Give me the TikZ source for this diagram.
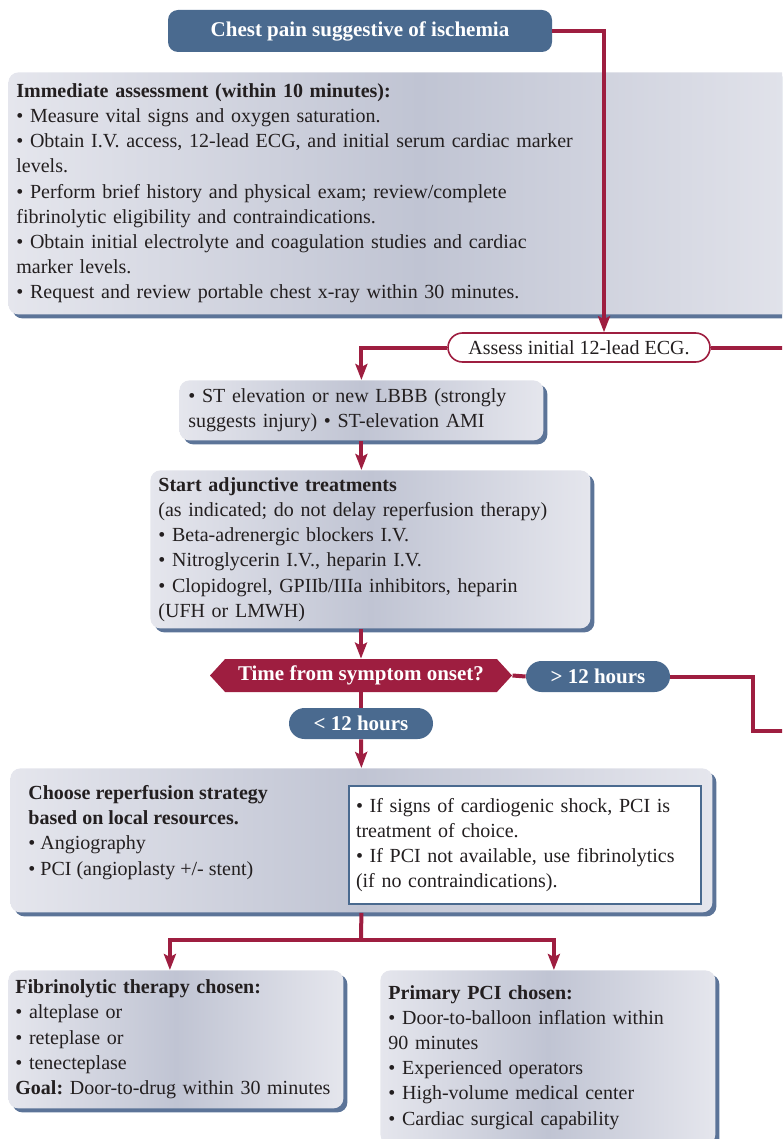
\documentclass[tikz,border=0pt]{standalone}
\usepackage{fontspec}
\setmainfont{Liberation Serif}
\usetikzlibrary{positioning,arrows.meta,shapes.symbols,shapes.misc,shadows}
\definecolor{ecgred}{RGB}{158,30,64}
\definecolor{navy}{RGB}{74,106,143}
\definecolor{boxlight}{RGB}{229,230,237}
\definecolor{boxmid}{RGB}{192,196,211}
\definecolor{shadowblue}{RGB}{92,116,152}
\definecolor{ink}{RGB}{35,31,32}
\newcommand{\bodyfont}{\fontsize{10}{12.6}\selectfont\frenchspacing}
\newcommand{\tagfont}{\fontsize{10.5}{12.6}\selectfont\bfseries}
\tikzset{
  >={Stealth[length=8pt,width=6pt,inset=1.5pt]},
  flow/.style={->,draw=ecgred,line width=2pt},
  link/.style={draw=ecgred,line width=2pt},
  infobox/.style={rounded corners=5pt,left color=boxlight,right color=boxlight,
    middle color=boxmid,
    drop shadow={shadow xshift=2pt,shadow yshift=-2pt,fill=shadowblue,opacity=1},
    text=ink,font=\bodyfont,align=left,anchor=north west,inner xsep=4pt,
    inner ysep=0pt},
  notebox/.style={draw=navy,line width=1pt,fill=white,text=ink,font=\bodyfont,
    align=left,anchor=north west,inner xsep=3.5pt,inner ysep=0pt},
  banner/.style={rounded corners=5pt,fill=navy,text=white,font=\tagfont,
    inner sep=0pt},
  navpill/.style={rounded rectangle,fill=navy,text=white,font=\tagfont,
    inner sep=0pt,minimum width=72pt,minimum height=15.5pt},
  ecgpill/.style={rounded rectangle,draw=ecgred,line width=0.8pt,fill=white,
    text=ink,font=\bodyfont,inner sep=0pt},
  decide/.style={signal,signal to=west and east,signal pointer angle=95,
    fill=ecgred,text=white,font=\tagfont,inner sep=0pt},
}

\begin{document}
\begin{tikzpicture}[x=0.5pt,y=-0.5pt]
  \clip (0,0) rectangle (782,1139);
  \node[banner,minimum width=192pt,minimum height=21pt] (chest) at (360,31)
    {Chest pain suggestive of ischemia};
  \node[infobox,text width=403pt,minimum height=121pt] (assess) at (8,72)
    {\textbf{Immediate assessment (within 10 minutes):}\\
     \textbullet\ Measure vital signs and oxygen saturation.\\
     \textbullet\ Obtain I.V. access, 12-lead ECG, and initial serum cardiac marker\\
     levels.\\
     \textbullet\ Perform brief history and physical exam; review/complete\\
     fibrinolytic eligibility and contraindications.\\
     \textbullet\ Obtain initial electrolyte and coagulation studies and cardiac\\
     marker levels.\\
     \textbullet\ Request and review portable chest x-ray within 30 minutes.};
  \node[ecgpill,minimum width=131pt,minimum height=14.5pt] (ecg) at (579,347.5)
    {Assess initial 12-lead ECG.};
  \coordinate (ecgout) at (790,347.5);
  \node[infobox,inner xsep=4.5pt,text width=173pt,minimum height=30pt] (stemi)
    at (179,380)
    {\textbullet\ ST elevation or new LBBB (strongly\\
     suggests injury) \textbullet\ ST-elevation AMI};
  \node[infobox,text width=212pt,minimum height=79pt] (adjunct) at (150,470)
    {\textbf{Start adjunctive treatments}\\
     (as indicated; do not delay reperfusion therapy)\\
     \textbullet\ Beta-adrenergic blockers I.V.\\
     \textbullet\ Nitroglycerin I.V., heparin I.V.\\
     \textbullet\ Clopidogrel, GPIIb/IIIa inhibitors, heparin\\
     (UFH or LMWH)};
  \node[decide,minimum width=151pt,minimum height=16.5pt] (onset) at (361,675.5)
    {Time from symptom onset?};
  \node[navpill] (late) at (598,676.5) {> 12 hours};
  \node[navpill] (early) at (361,723.5) {< 12 hours};
  \coordinate (lateturn) at (753,731);
  \coordinate (lateout) at (790,731);
  \node[infobox,minimum width=351pt,minimum height=72pt] (strategy) at (10,768) {};
  \node[anchor=north west,inner sep=0pt,text=ink,font=\bodyfont,align=left]
    (strategytxt) at (28,785)
    {\textbf{Choose reperfusion strategy}\\
     \textbf{based on local resources.}\\
     \textbullet\ Angiography\\
     \textbullet\ PCI (angioplasty +/- stent)};
  \node[notebox,text width=169pt,minimum height=59pt] (shock) at (348,785)
    {\textbullet\ If signs of cardiogenic shock, PCI is\\
     treatment of choice.\\
     \textbullet\ If PCI not available, use fibrinolytics\\
     (if no contraindications).};
  \coordinate (split) at (361,940);
  \node[infobox,inner xsep=3.5pt,text width=160.5pt,minimum height=69pt] (lysis)
    at (8,970)
    {\textbf{Fibrinolytic therapy chosen:}\\
     \textbullet\ alteplase or\\
     \textbullet\ reteplase or\\
     \textbullet\ tenecteplase\\
     \textbf{Goal:} Door-to-drug within 30~minutes};
  \node[infobox,text width=159.5pt,minimum height=87pt] (pci) at (380,970)
    {\textbf{Primary PCI chosen:}\\
     \textbullet\ Door-to-balloon inflation within\\
     90 minutes\\
     \textbullet\ Experienced operators\\
     \textbullet\ High-volume medical center\\
     \textbullet\ Cardiac surgical capability};
  \draw[flow] (chest.east) -| ([xshift=12.5pt]ecg.north);
  \draw[flow] (ecg.west) -| (stemi.north);
  \draw[link] (ecg.east) -- (ecgout);
  \draw[flow] (stemi.south) -- (stemi.south |- adjunct.north);
  \draw[flow] (onset.north |- adjunct.south) -- (onset.north);
  \draw[link] (onset.south) -- (early.north);
  \draw[flow] (early.south) -- (strategy.north);
  \draw[link] (onset.east) -- (late.west);
  \draw[link] (late.east) -| (lateturn) -- (lateout);
  \draw[link] (strategy.south) -- (split);
  \draw[flow] (split) -| ([xshift=-3pt]lysis.north);
  \draw[flow] (split) -| ([xshift=3pt]pci.north);
\end{tikzpicture}
\end{document}
